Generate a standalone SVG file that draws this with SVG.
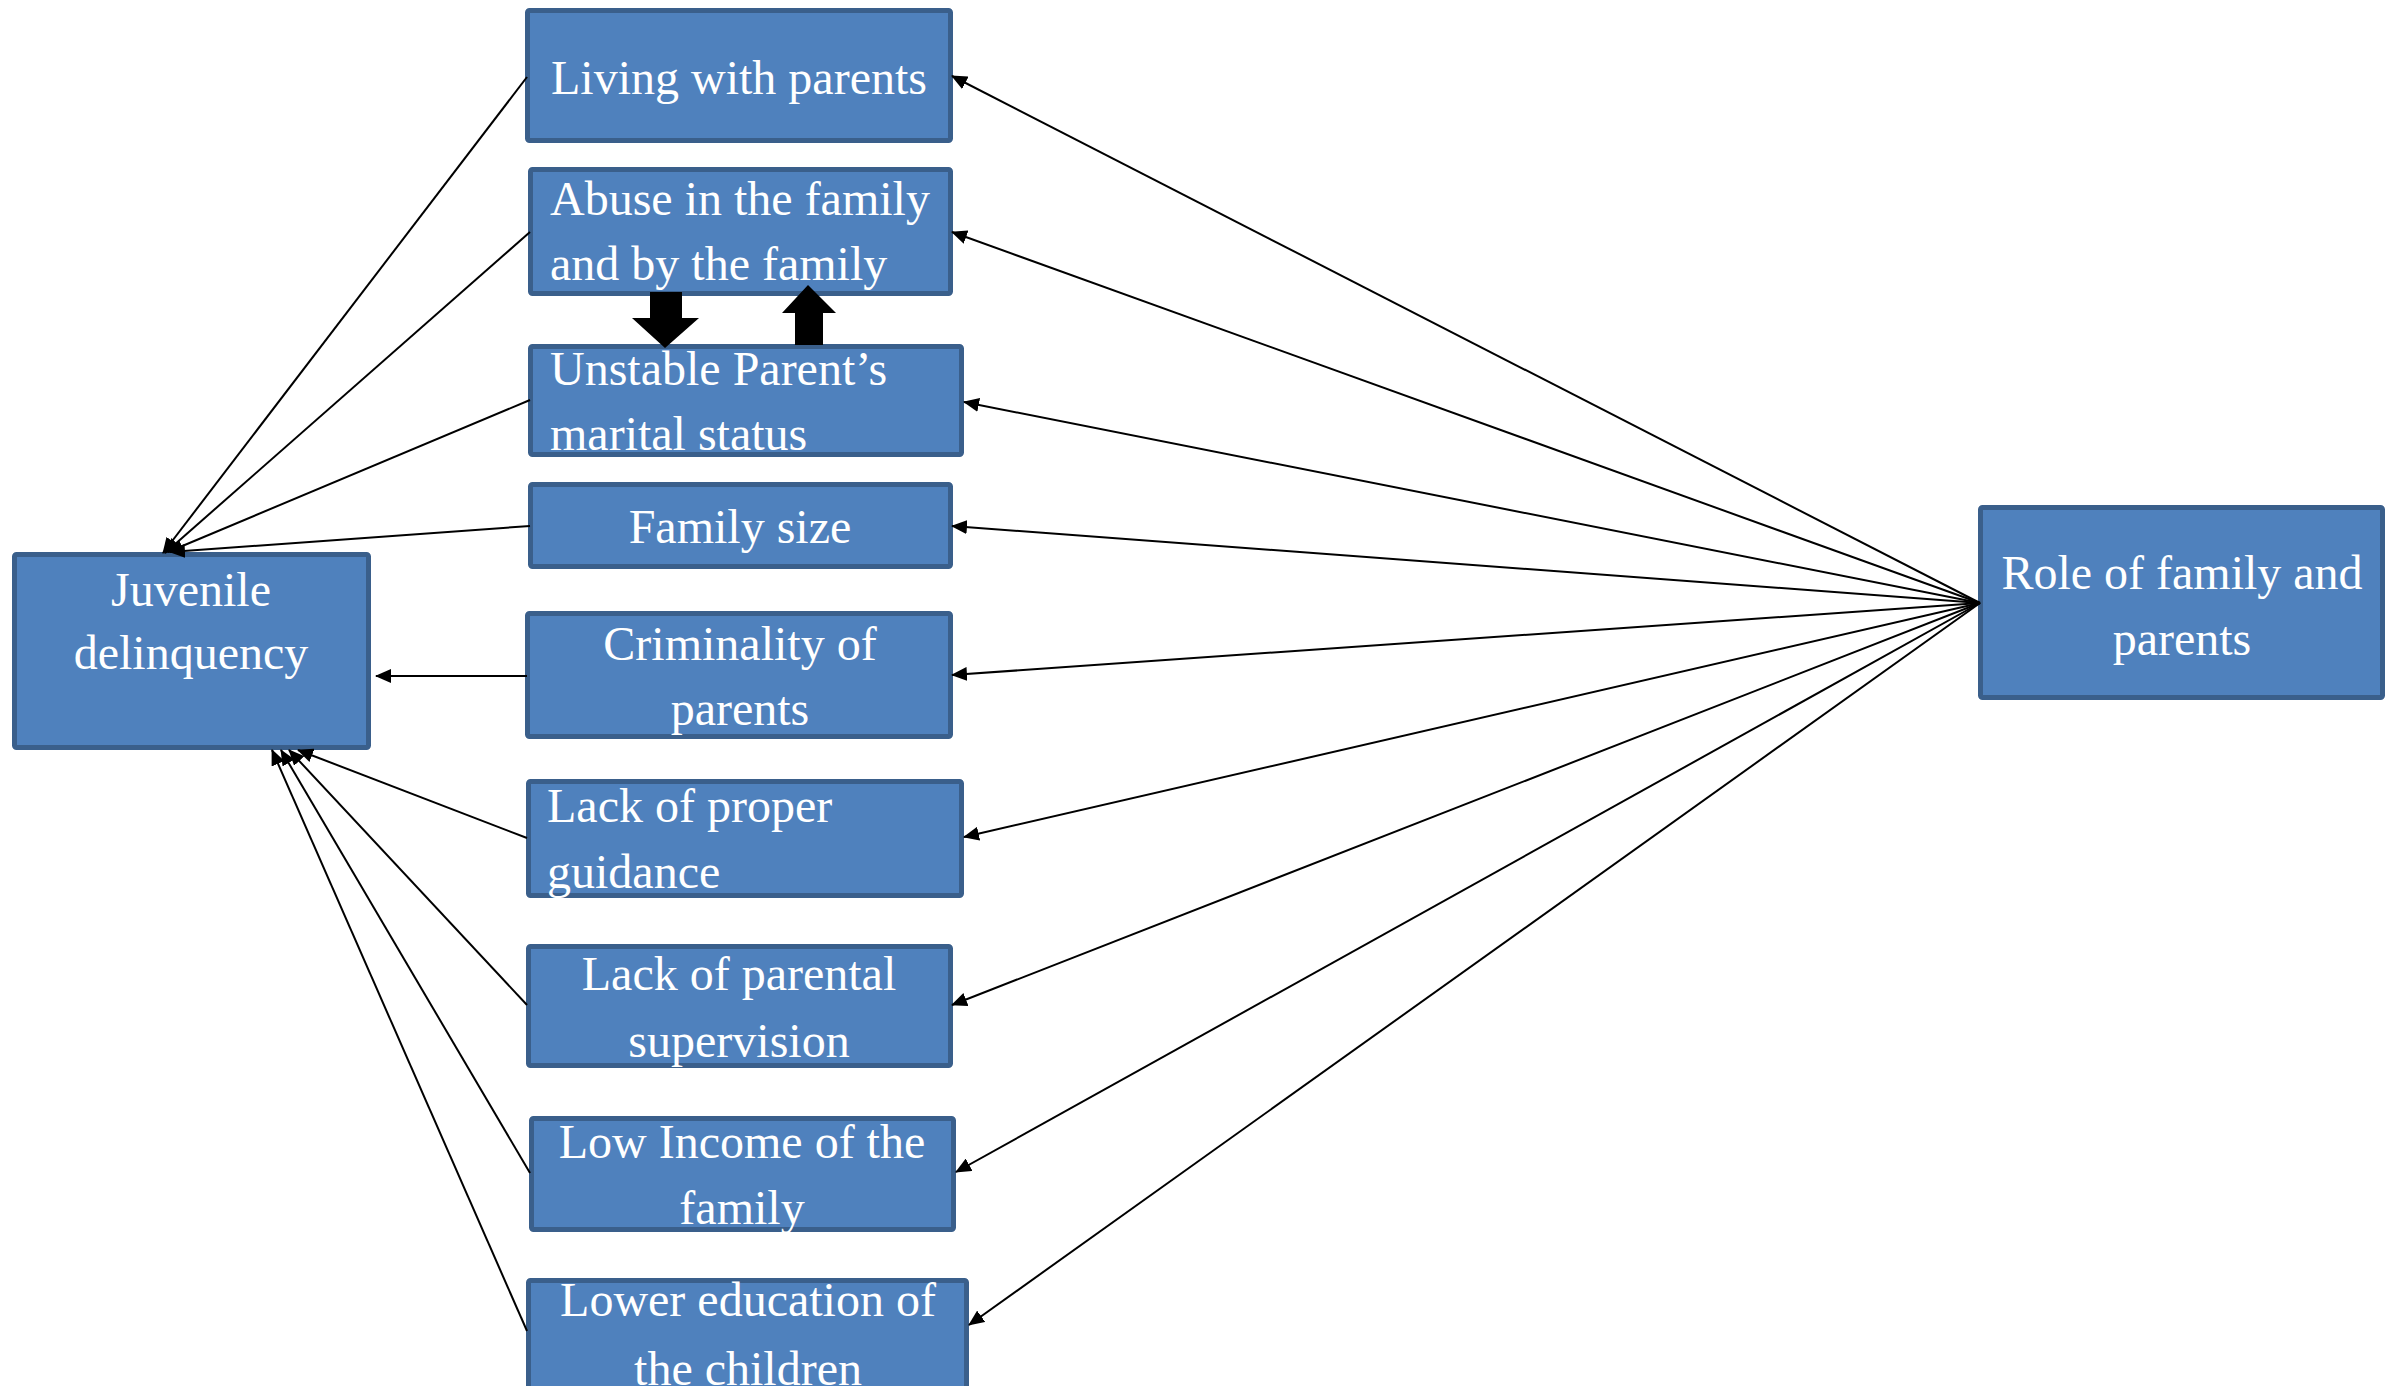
<svg xmlns="http://www.w3.org/2000/svg" width="2397" height="1386" viewBox="0 0 2397 1386">
<defs>
<style>
.box{fill:#4F81BD;stroke:#3A5F8B;stroke-width:5}
.t{font-family:"Liberation Serif","Times New Roman",serif;font-size:48px;fill:#FFFFFF}
.c{text-anchor:middle}
.ln{stroke:#000;stroke-width:2;fill:none;marker-end:url(#ah)}
</style>
<marker id="ah" markerUnits="userSpaceOnUse" markerWidth="16" markerHeight="14" refX="15" refY="7" orient="auto">
<path d="M0,0 L16,7 L0,14 z" fill="#000"/>
</marker>
</defs>
<rect width="2397" height="1386" fill="#FFFFFF"/>
<g id="living">
<rect class="box" x="527.5" y="10.5" width="423" height="130" rx="2"/>
<text class="t c" x="739" y="94">Living with parents</text>
</g>
<g id="abuse">
<rect class="box" x="530.5" y="169.5" width="420" height="124" rx="2"/>
<text class="t" x="550" y="215">Abuse in the family</text>
<text class="t" x="550" y="280">and by the family</text>
</g>
<g id="unstable">
<rect class="box" x="530.5" y="346.5" width="431" height="108" rx="2"/>
<text class="t" x="550" y="385">Unstable Parent’s</text>
<text class="t" x="550" y="450">marital status</text>
</g>
<g id="familysize">
<rect class="box" x="530.5" y="484.5" width="420" height="82" rx="2"/>
<text class="t c" x="740" y="543">Family size</text>
</g>
<g id="criminality">
<rect class="box" x="527.5" y="613.5" width="423" height="123" rx="2"/>
<text class="t c" x="740" y="660">Criminality of</text>
<text class="t c" x="740" y="725">parents</text>
</g>
<g id="guidance">
<rect class="box" x="528.5" y="781.5" width="433" height="114" rx="2"/>
<text class="t" x="547" y="822">Lack of proper</text>
<text class="t" x="547" y="888">guidance</text>
</g>
<g id="supervision">
<rect class="box" x="528.5" y="946.5" width="422" height="119" rx="2"/>
<text class="t c" x="739" y="990">Lack of parental</text>
<text class="t c" x="739" y="1057">supervision</text>
</g>
<g id="income">
<rect class="box" x="531.5" y="1118.5" width="422" height="111" rx="2"/>
<text class="t c" x="742" y="1158">Low Income of the</text>
<text class="t c" x="742" y="1224">family</text>
</g>
<g id="education">
<rect class="box" x="528.5" y="1280.5" width="438" height="130" rx="2"/>
<text class="t c" x="748" y="1316">Lower education of</text>
<text class="t c" x="748" y="1385">the children</text>
</g>
<g id="juvenile">
<rect class="box" x="14.5" y="554.5" width="354" height="193" rx="2"/>
<text class="t c" x="191" y="606">Juvenile</text>
<text class="t c" x="191" y="669">delinquency</text>
</g>
<g id="role">
<rect class="box" x="1980.5" y="507.5" width="402" height="190" rx="2"/>
<text class="t c" x="2182" y="589">Role of family and</text>
<text class="t c" x="2182" y="655">parents</text>
</g>
<g id="connectors">
<line class="ln" x1="527" y1="77" x2="163" y2="553"/>
<line class="ln" x1="530" y1="232" x2="165" y2="553"/>
<line class="ln" x1="530" y1="400" x2="168" y2="552"/>
<line class="ln" x1="530" y1="526" x2="170" y2="552"/>
<line class="ln" x1="527" y1="676" x2="376" y2="676"/>
<line class="ln" x1="527" y1="838" x2="298" y2="750"/>
<line class="ln" x1="527" y1="1005" x2="289" y2="750"/>
<line class="ln" x1="530" y1="1173" x2="281" y2="750"/>
<line class="ln" x1="527" y1="1331" x2="272" y2="750"/>
<line class="ln" x1="1980" y1="603" x2="952" y2="76"/>
<line class="ln" x1="1980" y1="603" x2="952" y2="232"/>
<line class="ln" x1="1980" y1="603" x2="964" y2="402"/>
<line class="ln" x1="1980" y1="603" x2="952" y2="526"/>
<line class="ln" x1="1980" y1="603" x2="952" y2="675"/>
<line class="ln" x1="1980" y1="603" x2="964" y2="837"/>
<line class="ln" x1="1980" y1="603" x2="952" y2="1005"/>
<line class="ln" x1="1980" y1="603" x2="956" y2="1172"/>
<line class="ln" x1="1980" y1="603" x2="969" y2="1325"/>
<polygon points="650,292 682,292 682,318 699,318 665,348 632,318 650,318" fill="#000"/>
<polygon points="808,285 836,313 823,313 823,345 795,345 795,313 782,313" fill="#000"/>
</g>
</svg>
